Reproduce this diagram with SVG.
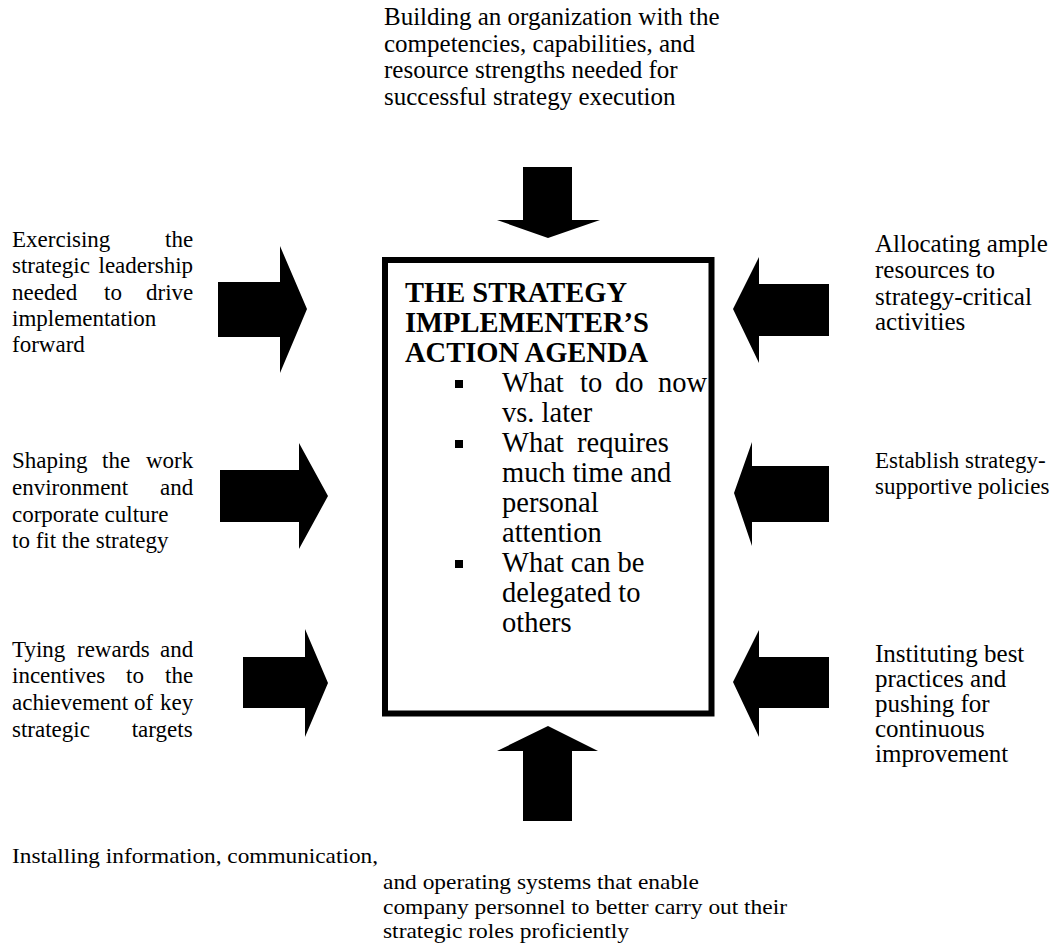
<svg xmlns="http://www.w3.org/2000/svg" width="1054" height="949" viewBox="0 0 1054 949">
<style>
text{font-family:"Liberation Serif","Times New Roman",serif;fill:#000}
.t{font-size:25px}
.r2{font-size:23px}
.l{font-size:23px}
.b{font-size:22px}
.h{font-size:28.5px;font-weight:bold}
.p{font-size:28.5px}
.arrow{fill:#000}
</style>
<rect width="1054" height="949" fill="#fff"/>
<g id="center-box">
<rect x="385" y="260" width="326.5" height="453.5" fill="#fff" stroke="#000" stroke-width="6"/>
<text class="h" x="405" y="302">THE STRATEGY</text>
<text class="h" x="405" y="332">IMPLEMENTER’S</text>
<text class="h" x="405" y="362">ACTION AGENDA</text>
<rect x="455" y="380" width="8" height="8"/>
<text class="p" y="392"><tspan x="502">What</tspan><tspan x="580">to</tspan><tspan x="615">do</tspan><tspan x="658">now</tspan></text>
<text class="p" x="502" y="422">vs. later</text>
<rect x="455" y="440" width="8" height="8"/>
<text class="p" y="452"><tspan x="502">What</tspan><tspan x="577">requires</tspan></text>
<text class="p" x="502" y="482">much time and</text>
<text class="p" x="502" y="512">personal</text>
<text class="p" x="502" y="542">attention</text>
<rect x="455" y="560" width="8" height="8"/>
<text class="p" x="502" y="572">What can be</text>
<text class="p" x="502" y="602">delegated to</text>
<text class="p" x="502" y="632">others</text>
</g>
<g id="top-node">
<text class="t" x="384" y="25">Building an organization with the</text>
<text class="t" x="384" y="52">competencies, capabilities, and</text>
<text class="t" x="384" y="78">resource strengths needed for</text>
<text class="t" x="384" y="105">successful strategy execution</text>
</g>
<g id="left-node-1">
<text class="l" y="247"><tspan x="12">Exercising</tspan><tspan x="165">the</tspan></text>
<text class="l" y="273"><tspan x="12">strategic</tspan><tspan x="98.5">leadership</tspan></text>
<text class="l" y="300"><tspan x="12">needed</tspan><tspan x="104">to</tspan><tspan x="146">drive</tspan></text>
<text class="l" x="12" y="326">implementation</text>
<text class="l" x="12" y="352">forward</text>
</g>
<g id="left-node-2">
<text class="l" y="468"><tspan x="12">Shaping</tspan><tspan x="102">the</tspan><tspan x="146">work</tspan></text>
<text class="l" y="495"><tspan x="12">environment</tspan><tspan x="160">and</tspan></text>
<text class="l" x="12" y="522">corporate culture</text>
<text class="l" x="12" y="548">to fit the strategy</text>
</g>
<g id="left-node-3">
<text class="l" y="657"><tspan x="12">Tying</tspan><tspan x="77">rewards</tspan><tspan x="160">and</tspan></text>
<text class="l" y="683"><tspan x="12">incentives</tspan><tspan x="126">to</tspan><tspan x="165">the</tspan></text>
<text class="l" y="710"><tspan x="12">achievement</tspan><tspan x="134">of</tspan><tspan x="160">key</tspan></text>
<text class="l" y="737"><tspan x="12">strategic</tspan><tspan x="131.7">targets</tspan></text>
</g>
<g id="right-node-1">
<text class="t" x="875" y="252">Allocating ample</text>
<text class="t" x="875" y="278">resources to</text>
<text class="t" x="875" y="305">strategy-critical</text>
<text class="t" x="875" y="330">activities</text>
</g>
<g id="right-node-2">
<text class="r2" x="875" y="468">Establish strategy-</text>
<text class="r2" x="875" y="494">supportive policies</text>
</g>
<g id="right-node-3">
<text class="t" x="875" y="662">Instituting best</text>
<text class="t" x="875" y="687">practices and</text>
<text class="t" x="875" y="712">pushing for</text>
<text class="t" x="875" y="737">continuous</text>
<text class="t" x="875" y="762">improvement</text>
</g>
<g id="bottom-node">
<text class="b" x="12" y="863" textLength="366" lengthAdjust="spacingAndGlyphs">Installing information, communication,</text>
<text class="b" x="383" y="889" textLength="316" lengthAdjust="spacingAndGlyphs">and operating systems that enable</text>
<text class="b" x="383" y="913.5" textLength="404" lengthAdjust="spacingAndGlyphs">company personnel to better carry out their</text>
<text class="b" x="383" y="938" textLength="246" lengthAdjust="spacingAndGlyphs">strategic roles proficiently</text>
</g>
<g id="connectors">
<polygon class="arrow" points="523,167 572,167 572,220 600,220 548,238 497,220 523,220"/>
<polygon class="arrow" points="523,821 572,821 572,751 598,751 548,726 497,751 523,751"/>
<polygon class="arrow" points="218,282 280,282 280,246 307,309 280,373 280,337 218,337"/>
<polygon class="arrow" points="220,470 299,470 299,443 328,496 299,549 299,522 220,522"/>
<polygon class="arrow" points="243,657 305,657 305,629 328,683 305,737 305,708 243,708"/>
<polygon class="arrow" points="829,284 759,284 759,257 733,309 759,363 759,336 829,336"/>
<polygon class="arrow" points="829,466 752,466 752,442 734,493 752,546 752,522 829,522"/>
<polygon class="arrow" points="829,657 759,657 759,630 733,682 759,737 759,708 829,708"/>
</g>
</svg>
